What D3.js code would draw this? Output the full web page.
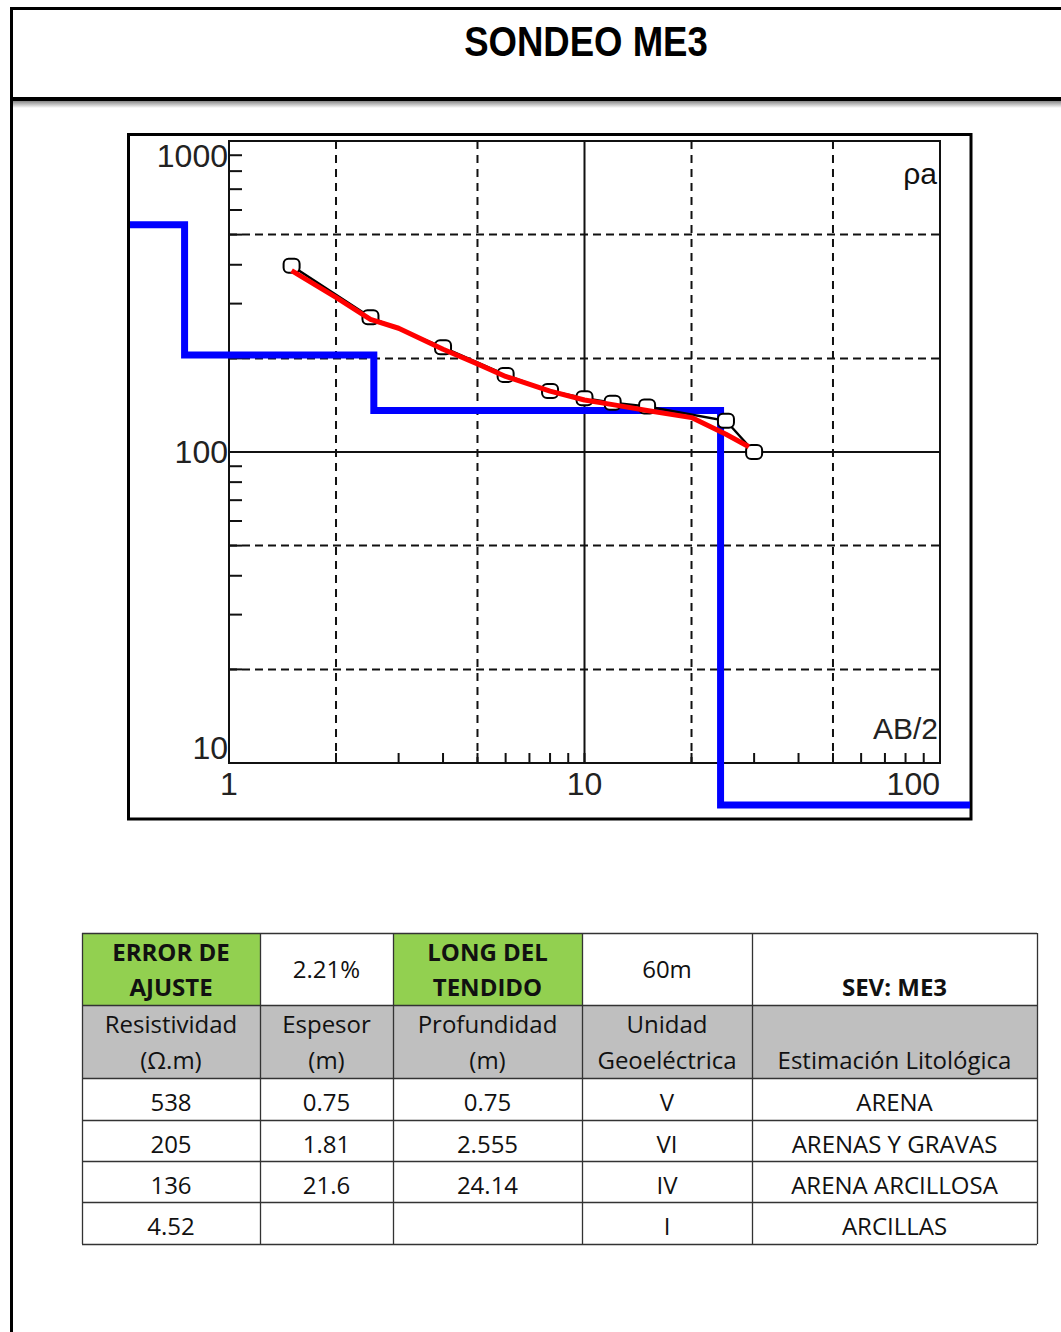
<!DOCTYPE html>
<html>
<head>
<meta charset="utf-8">
<script src="https://cdn.jsdelivr.net/npm/d3@7"></script>
<style>
  body { margin: 0; background: #fff; }
  svg { display: block; }
</style>
</head>
<body>
<div id="sheet"></div>
<script>
const W = 1061
const H = 1332

// --- Data ---

// Curva de campo (AB/2 en m, resistividad aparente en ohm.m)
const abHalf = [1.5, 2.5, 4, 6, 8, 10, 12, 15, 25, 30]
const rhoObs = [397, 271, 217, 177, 157, 149, 144, 140, 126, 100]

// Curva calculada del modelo
const modelAB = [1.5, 2, 2.5, 3, 4, 5, 6, 8, 10, 12, 15, 20, 25, 29]
const rhoModel = [383, 314, 267, 250, 214, 192, 175, 157, 147, 142, 136, 129, 114, 104]

// Modelo de capas
const layerRho = [538, 205, 136, 4.52]
const layerDepth = [0.75, 2.555, 24.14]

// Ejes
const xTicksMain = [1, 10, 100]
const yTicksMain = [10, 100, 1000]
const gridDashed = [2, 5, 20, 50, 200, 500]

// Tabla
const headerRow = ["ERROR DE|AJUSTE", "2.21%", "LONG DEL|TENDIDO", "60m", "SEV: ME3"]
const subHeaders = ["Resistividad|(Ω.m)", "Espesor|(m)", "Profundidad|(m)", "Unidad|Geoeléctrica", "Estimación Litológica"]
const resistividad = ["538", "205", "136", "4.52"]
const espesor = ["0.75", "1.81", "21.6", ""]
const profundidad = ["0.75", "2.555", "24.14", ""]
const unidad = ["V", "VI", "IV", "I"]
const litologia = ["ARENA", "ARENAS Y GRAVAS", "ARENA ARCILLOSA", "ARCILLAS"]

const svg = d3.select("#sheet")
  .append("svg")
    .attr("width", W)
    .attr("height", H)

// --- Page frame and title ---

const defs = svg.append("defs")
const shade = defs.append("linearGradient")
    .attr("id", "shade").attr("x1", 0).attr("x2", 0).attr("y1", 0).attr("y2", 1)
shade.append("stop").attr("offset", "0%").attr("stop-color", "#888")
shade.append("stop").attr("offset", "100%").attr("stop-color", "#fff")

svg.append("rect").attr("x", 13).attr("y", 101).attr("width", W - 13).attr("height", 7).attr("fill", "url(#shade)")
svg.append("line").attr("x1", 11.5).attr("x2", 11.5).attr("y1", 7).attr("y2", H)
    .attr("stroke", "#000").attr("stroke-width", 3)
svg.append("line").attr("x1", 10).attr("x2", W).attr("y1", 8.5).attr("y2", 8.5)
    .attr("stroke", "#000").attr("stroke-width", 3)
svg.append("line").attr("x1", 10).attr("x2", W).attr("y1", 99).attr("y2", 99)
    .attr("stroke", "#000").attr("stroke-width", 4)

svg.append("text")
    .attr("transform", "translate(586,56) scale(0.85,1)")
    .attr("text-anchor", "middle")
    .style("font", "bold 43px 'Liberation Sans', Arial, sans-serif")
    .text("SONDEO ME3")

// --- Chart ---

const box = { x: 128.5, y: 134.5, w: 842.5, h: 684.5 }
const plot = { left: 229, right: 940, top: 141, bottom: 763 }

const x = d3.scaleLog().domain([1, 100]).range([plot.left, plot.right])
const y = d3.scaleLog().domain([10, 1000]).range([plot.bottom, plot.top])

const chart = svg.append("g")

chart.append("rect")
    .attr("x", box.x).attr("y", box.y).attr("width", box.w).attr("height", box.h)
    .attr("fill", "#fff").attr("stroke", "#000").attr("stroke-width", 3)

// dashed grid
const dashedX = gridDashed.filter(d => d > 1 && d < 100)
const dashedY = gridDashed.filter(d => d > 10 && d < 1000)

chart.selectAll(".vgrid")
  .data(dashedX)
  .join("line")
    .attr("x1", d => x(d)).attr("x2", d => x(d))
    .attr("y1", plot.top).attr("y2", plot.bottom)
    .attr("stroke", "#111").attr("stroke-width", 2).attr("stroke-dasharray", "8,6")

chart.selectAll(".hgrid")
  .data(dashedY)
  .join("line")
    .attr("x1", plot.left).attr("x2", plot.right)
    .attr("y1", d => y(d)).attr("y2", d => y(d))
    .attr("stroke", "#111").attr("stroke-width", 2).attr("stroke-dasharray", "8,5")

// solid decade lines
chart.append("line")
    .attr("x1", x(10)).attr("x2", x(10)).attr("y1", plot.top).attr("y2", plot.bottom)
    .attr("stroke", "#111").attr("stroke-width", 2)
chart.append("line")
    .attr("x1", plot.left).attr("x2", plot.right).attr("y1", y(100)).attr("y2", y(100))
    .attr("stroke", "#111").attr("stroke-width", 2)

// minor ticks (pointing inward)
const xMinor = x.ticks().filter(d => d > 1 && d < 100)
chart.selectAll(".xtick")
  .data(xMinor)
  .join("line")
    .attr("x1", d => x(d)).attr("x2", d => x(d))
    .attr("y1", plot.bottom).attr("y2", plot.bottom - 10)
    .attr("stroke", "#111").attr("stroke-width", 2)

const yMinor = y.ticks().filter(d => d > 10 && d < 1000)
chart.selectAll(".ytick")
  .data(yMinor)
  .join("line")
    .attr("x1", plot.left).attr("x2", plot.left + 13)
    .attr("y1", d => y(d)).attr("y2", d => y(d))
    .attr("stroke", "#111").attr("stroke-width", 2)

chart.append("rect")
    .attr("x", plot.left).attr("y", plot.top)
    .attr("width", plot.right - plot.left).attr("height", plot.bottom - plot.top)
    .attr("fill", "none").attr("stroke", "#111").attr("stroke-width", 2)

// axis labels
const labelFont = "32px 'Liberation Sans', Arial, sans-serif"
chart.selectAll(".xlab")
  .data(xTicksMain)
  .join("text")
    .attr("x", d => x(d))
    .attr("y", plot.bottom + 32)
    .attr("text-anchor", d => d === 100 ? "end" : "middle")
    .attr("fill", "#222")
    .style("font", labelFont)
    .text(d => d)

chart.selectAll(".ylab")
  .data(yTicksMain)
  .join("text")
    .attr("x", plot.left - 1)
    .attr("y", d => Math.min(Math.max(y(d), plot.top + 15), plot.bottom - 15) + 11)
    .attr("text-anchor", "end")
    .attr("fill", "#222")
    .style("font", labelFont)
    .text(d => d)

chart.append("text")
    .attr("x", plot.right - 3).attr("y", 184)
    .attr("text-anchor", "end")
    .attr("fill", "#111")
    .style("font", "30px 'Liberation Sans', Arial, sans-serif")
    .text("ρa")

chart.append("text")
    .attr("x", plot.right - 2).attr("y", 739)
    .attr("text-anchor", "end")
    .attr("fill", "#222")
    .style("font", "30px 'Liberation Sans', Arial, sans-serif")
    .text("AB/2")

// layer model (blue steps), clipped to the chart box
defs.append("clipPath").attr("id", "boxclip")
  .append("rect").attr("x", 130).attr("y", 136).attr("width", 840).attr("height", 676)

const blueFloor = 805
const steps = []
steps.push([0.5, layerRho[0]])
layerDepth.forEach((dep, i) => {
  steps.push([dep, layerRho[i]])
  steps.push([dep, layerRho[i + 1]])
})
steps.push([300, layerRho[layerRho.length - 1]])

chart.append("path")
    .attr("clip-path", "url(#boxclip)")
    .attr("d", d3.line().x(d => x(d[0])).y(d => Math.min(y(d[1]), blueFloor))(steps))
    .attr("fill", "none").attr("stroke", "#0000ff").attr("stroke-width", 7)
    .attr("stroke-linejoin", "miter")

// observed curve
const obs = abHalf.map((a, i) => [a, rhoObs[i]])
chart.append("path")
    .attr("d", d3.line().x(d => x(d[0])).y(d => y(d[1]))(obs))
    .attr("fill", "none").attr("stroke", "#000").attr("stroke-width", 2.5)

chart.selectAll(".pt")
  .data(obs)
  .join("rect")
    .attr("x", d => x(d[0]) - 8).attr("y", d => y(d[1]) - 7)
    .attr("width", 16).attr("height", 14)
    .attr("rx", 5)
    .attr("fill", "#fff").attr("stroke", "#000").attr("stroke-width", 2)

// calculated curve
const model = modelAB.map((a, i) => [a, rhoModel[i]])
chart.append("path")
    .attr("d", d3.line().x(d => x(d[0])).y(d => y(d[1]))(model))
    .attr("fill", "none").attr("stroke", "#ff0000").attr("stroke-width", 5)
    .attr("stroke-linejoin", "round")

// --- Table ---

const cols = [82, 260, 393, 582, 752, 1037]
const rowsY = [933, 1005, 1078, 1120, 1161, 1202, 1244]
const cellFont = "24px 'Open Sans', 'Noto Sans', sans-serif"
const table = svg.append("g")

const colCenter = i => (cols[i] + cols[i + 1]) / 2

// backgrounds
;[0, 2].forEach(i => {
  table.append("rect")
      .attr("x", cols[i]).attr("y", rowsY[0])
      .attr("width", cols[i + 1] - cols[i]).attr("height", rowsY[1] - rowsY[0])
      .attr("fill", "#92d050")
})
table.append("rect")
    .attr("x", cols[0]).attr("y", rowsY[1])
    .attr("width", cols[5] - cols[0]).attr("height", rowsY[2] - rowsY[1])
    .attr("fill", "#bfbfbf")

// header row
headerRow.forEach((t, i) => {
  const lines = t.split("|")
  const bold = i !== 1 && i !== 3
  const g = table.append("text")
      .attr("text-anchor", "middle")
      .attr("fill", "#111")
      .style("font", (bold ? "bold " : "") + cellFont)
  if (lines.length === 2) {
    g.append("tspan").attr("x", colCenter(i)).attr("y", 961).text(lines[0])
    g.append("tspan").attr("x", colCenter(i)).attr("y", 996).text(lines[1])
  } else if (i === 4) {
    g.attr("x", colCenter(i)).attr("y", 996).text(t)
  } else {
    g.attr("x", colCenter(i)).attr("y", 978).text(t)
  }
})

// sub header row
subHeaders.forEach((t, i) => {
  const lines = t.split("|")
  const g = table.append("text")
      .attr("text-anchor", "middle")
      .attr("fill", "#111")
      .style("font", cellFont)
  if (lines.length === 2) {
    g.append("tspan").attr("x", colCenter(i)).attr("y", 1033).text(lines[0])
    g.append("tspan").attr("x", colCenter(i)).attr("y", 1069).text(lines[1])
  } else {
    g.attr("x", colCenter(i)).attr("y", 1069).text(t)
  }
})

// body rows
const bodyCols = [resistividad, espesor, profundidad, unidad, litologia]
bodyCols.forEach((col, c) => {
  col.forEach((t, r) => {
    table.append("text")
        .attr("x", colCenter(c))
        .attr("y", (rowsY[r + 2] + rowsY[r + 3]) / 2 + 12)
        .attr("text-anchor", "middle")
        .attr("fill", "#111")
        .style("font", cellFont)
        .text(t)
  })
})

// grid lines
rowsY.forEach(ry => {
  table.append("line")
      .attr("x1", cols[0]).attr("x2", cols[5])
      .attr("y1", ry + 0.5).attr("y2", ry + 0.5)
      .attr("stroke", "#333").attr("stroke-width", 1.3)
})
cols.forEach(cx => {
  table.append("line")
      .attr("x1", cx + 0.5).attr("x2", cx + 0.5)
      .attr("y1", rowsY[0]).attr("y2", rowsY[rowsY.length - 1])
      .attr("stroke", "#333").attr("stroke-width", 1.3)
})
</script>
</body>
</html>
